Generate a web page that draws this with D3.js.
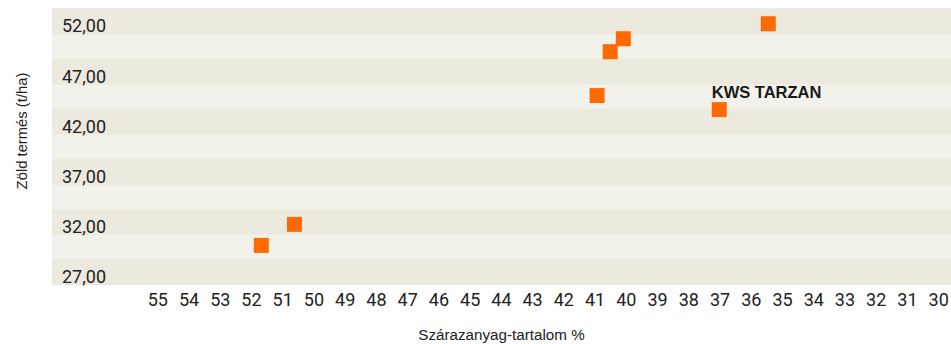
<!DOCTYPE html>
<html>
<head>
<meta charset="utf-8">
<script src="https://cdn.jsdelivr.net/npm/d3@7"></script>
<style>
  html, body { margin: 0; padding: 0; background: #fff; }
  svg { display: block; font-family: Roboto, "Liberation Sans", sans-serif; }
</style>
</head>
<body>
<svg id="chart" width="951" height="344"></svg>
<script>
// Hybrids: dry matter content (%) vs. green yield (t/ha)
const hybrids   = ["", "", "", "", "", "", "KWS TARZAN"];
const dryMatter = [51.67, 50.61, 35.44, 40.08, 40.50, 40.92, 37.01];
const greenYield = [30.95, 33.05, 53.07, 51.57, 50.28, 45.90, 44.50];

const xTicks = d3.range(55, 29, -1);       // 55 … 30
const yTicks = [27, 32, 37, 42, 47, 52];
const yTickLabels = ["27,00", "32,00", "37,00", "42,00", "47,00", "52,00"];

const svg = d3.select("#chart");
const plot = { left: 52, right: 951, top: 8, bottom: 285 };

// reversed horizontal axis: higher dry matter on the left
const x = d3.scaleLinear().domain([58.37, 29.59]).range([plot.left, plot.right]);
const y = d3.scaleLinear().domain([27, 54.64]).range([plot.bottom, plot.top]);

// alternating horizontal bands
const bandDark = "#ECE9DE", bandLight = "#F3F2EA";
svg.append("rect")
  .attr("x", plot.left).attr("y", plot.top)
  .attr("width", plot.right - plot.left).attr("height", plot.bottom - plot.top)
  .attr("fill", bandLight);
svg.append("g").selectAll("rect")
  .data(yTicks)
  .join("rect")
  .attr("x", plot.left)
  .attr("width", plot.right - plot.left)
  .attr("y", d => y(Math.min(d + 2.6, 54.64)))
  .attr("height", d => y(d) - y(Math.min(d + 2.6, 54.64)))
  .attr("fill", bandDark);

// y tick labels sit inside the plot, just above their value line
svg.append("g").selectAll("text")
  .data(yTicks)
  .join("text")
  .attr("x", 62)
  .attr("y", d => y(d) - 2)
  .attr("font-size", 18)
  .attr("fill", "#222")
  .text((d, i) => yTickLabels[i]);

// x axis labels
const xAxis = d3.axisBottom(x).tickValues(xTicks).tickSize(0).tickPadding(0).tickFormat(d3.format("d"));
const gx = svg.append("g")
  .attr("transform", `translate(0,${plot.bottom})`)
  .call(xAxis);
gx.select(".domain").remove();
gx.selectAll("text")
  .attr("font-size", 18)
  .attr("font-family", "Roboto, sans-serif")
  .attr("fill", "#222")
  .attr("dy", null)
  .attr("y", 21);

// points
const size = 15;
svg.append("g").selectAll("rect")
  .data(dryMatter)
  .join("rect")
  .attr("x", d => x(d) - size / 2)
  .attr("y", (d, i) => y(greenYield[i]) - size / 2)
  .attr("width", size)
  .attr("height", size)
  .attr("fill", "#FF6A00");

// point labels
svg.append("g").selectAll("text")
  .data(dryMatter)
  .join("text")
  .filter((d, i) => hybrids[i] !== "")
  .attr("x", d => x(d) - size / 2)
  .attr("y", (d, i) => y(greenYield[dryMatter.indexOf(d)]) - size / 2 - 4)
  .attr("font-size", 16.5)
  .attr("font-weight", "bold")
  .attr("font-family", "'Liberation Sans', Arial, sans-serif")
  .attr("fill", "#1a1a1a")
  .text(d => hybrids[dryMatter.indexOf(d)]);

// axis titles
svg.append("text")
  .attr("x", (plot.left + plot.right) / 2)
  .attr("y", 340)
  .attr("text-anchor", "middle")
  .attr("font-size", 15.2)
  .attr("font-family", "'Liberation Sans', Arial, sans-serif")
  .attr("fill", "#222")
  .text("Szárazanyag-tartalom %");

svg.append("text")
  .attr("transform", "translate(27,131) rotate(-90)")
  .attr("text-anchor", "middle")
  .attr("font-size", 14.8)
  .attr("font-family", "'Liberation Sans', Arial, sans-serif")
  .attr("fill", "#222")
  .text("Zöld termés (t/ha)");
</script>
</body>
</html>
